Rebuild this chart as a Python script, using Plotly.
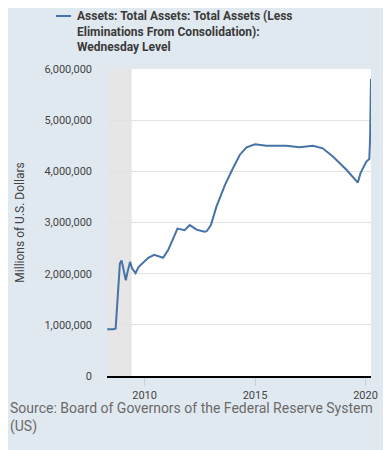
import plotly.graph_objects as go

# ---- data (millions of U.S. dollars, weekly level) ----
dates = [
    "2008-04-23", "2008-05-28", "2008-07-02", "2008-08-06", "2008-09-10",
    "2008-09-24", "2008-10-08", "2008-10-22", "2008-11-05", "2008-11-19",
    "2008-12-17", "2009-01-14", "2009-02-25", "2009-03-25", "2009-05-06",
    "2009-06-10", "2009-08-05", "2009-09-23", "2009-12-16", "2010-03-03",
    "2010-06-09", "2010-11-03", "2011-01-26", "2011-06-29", "2011-10-26",
    "2012-01-18", "2012-05-09", "2012-09-19", "2012-10-24", "2013-01-02",
    "2013-04-03", "2013-08-21", "2014-01-01", "2014-04-23", "2014-08-13",
    "2014-12-31", "2015-07-08", "2016-02-10", "2016-06-01", "2017-01-04",
    "2017-08-16", "2018-01-24", "2018-07-11", "2019-02-20", "2019-08-28",
    "2019-10-09", "2020-01-15", "2020-03-04", "2020-03-11", "2020-03-18",
    "2020-03-25", "2020-04-01",
]
values = [
    915000, 912000, 918000, 915000, 928000,
    1180000, 1500000, 1780000, 2070000, 2200000,
    2260000, 2100000, 1870000, 2030000, 2230000,
    2100000, 2010000, 2130000, 2230000, 2310000,
    2370000, 2310000, 2460000, 2880000, 2850000,
    2950000, 2860000, 2820000, 2830000, 2950000,
    3310000, 3730000, 4060000, 4320000, 4470000,
    4530000, 4500000, 4500000, 4500000, 4470000,
    4500000, 4450000, 4290000, 4030000, 3780000,
    3960000, 4190000, 4240000, 4360000, 4670000,
    5300000, 5810000,
]
series_name = ("Assets: Total Assets: Total Assets (Less<br>"
               "Eliminations From Consolidation):<br>Wednesday Level")
recession = ("2007-12-01", "2009-06-01")
x_range = ["2008-04-20", "2020-04-01"]
y_ticks = [0, 1000000, 2000000, 3000000, 4000000, 5000000, 6000000]
source_text = "Source: Board of Governors of the Federal Reserve System<br>(US)"

# ---- layout geometry (page body has an 8px default margin) ----
OFF = 8
W, H = 391 - OFF, 450 - OFF
L, R, T, B = 107 - OFF, 20, 69 - OFF, 74
PW, PH = W - L - R, H - T - B

def px_x(p):
    # p: pixel x in the final screenshot
    return (p - OFF - L) / PW

def px_y(p):
    return (H - B - (p - OFF)) / PH

LINE = "#4572a7"
BG = "#e1e9f0"

fig = go.Figure()
fig.add_trace(go.Scatter(
    x=dates, y=values, mode="lines",
    line=dict(color=LINE, width=2),
    name=series_name, showlegend=False,
))

fig.add_shape(type="rect", xref="x", yref="paper",
              x0=recession[0], x1=recession[1], y0=0, y1=1,
              fillcolor="#e6e6e6", line_width=0, layer="below")

# legend sample + text
fig.add_shape(type="line", xref="paper", yref="paper",
              x0=px_x(56), x1=px_x(71), y0=px_y(16), y1=px_y(16),
              line=dict(color=LINE, width=2))
fig.add_annotation(xref="paper", yref="paper", x=px_x(75), y=px_y(7),
                   xanchor="left", yanchor="top", align="left",
                   text="<b>" + series_name + "</b>", showarrow=False,
                   font=dict(family="Roboto", size=12, color="#3a3a3a"))

fig.add_annotation(xref="paper", yref="paper", x=px_x(8), y=px_y(398),
                   xanchor="left", yanchor="top", align="left",
                   text=source_text, showarrow=False,
                   font=dict(family="Roboto", size=14, color="#6a6a6a"))

fig.update_layout(
    width=W, height=H,
    margin=dict(l=L, r=R, t=T, b=B, pad=0),
    paper_bgcolor=BG, plot_bgcolor="white",
    font=dict(family="Roboto", size=11, color="#444"),
    showlegend=False,
)
fig.update_xaxes(
    range=x_range, type="date",
    tick0="2010-01-01", dtick="M60", tickformat="%Y",
    showgrid=False, showline=True, linecolor="black", linewidth=2,
    ticks="outside", ticklen=8, tickcolor="#c3d2e3", tickwidth=1,
    tickfont=dict(size=11, color="#444"), zeroline=False,
)
fig.update_yaxes(
    range=[0, 6000000], tickvals=y_ticks, tickformat=",d",
    showgrid=True, gridcolor="#e2e2e2", gridwidth=1, zeroline=False,
    showline=False, ticks="", ticklabelstandoff=14,
    tickfont=dict(size=11, color="#444"),
    title=dict(text="Millions of U.S. Dollars", standoff=17,
               font=dict(size=12, color="#444")),
)

fig.write_html("out.html")
